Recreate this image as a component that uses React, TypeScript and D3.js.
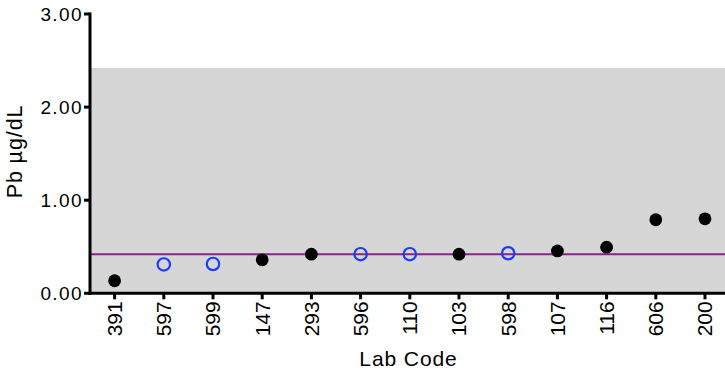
import React from "react";
import * as d3 from "d3";

const labCodes = ["391", "597", "599", "147", "293", "596", "110", "103", "598", "107", "116", "606", "200"];
const pbValues = [0.135, 0.31, 0.315, 0.36, 0.42, 0.42, 0.42, 0.42, 0.43, 0.455, 0.495, 0.79, 0.8];
// true = open blue marker, false = filled black marker
const openMarker = [false, true, true, false, false, true, true, false, true, false, false, false, false];
const yTicks = [0, 1, 2, 3];
const targetValue = 0.42;
const bandUpper = 2.42;

const W = 725;
const H = 373;
const left = 90;
const top = 14;
const bottom = 293.3;
const right = 729.6;

export default function App() {
  const x = d3.scaleBand<string>().domain(labCodes).range([left, right]).padding(0);
  const y = d3.scaleLinear().domain([0, 3]).range([bottom, top]);
  const cx = (c: string) => (x(c) as number) + x.bandwidth() / 2;
  const font = "Arial, 'Liberation Sans', Helvetica, sans-serif";

  return (
    <svg width={W} height={H} style={{ position: "absolute", left: 0, top: 0 }} fontFamily={font}>
      <rect x={left} y={y(bandUpper)} width={W - left} height={y(0) - y(bandUpper)} fill="#d6d6d6" />
      <line x1={left} x2={W} y1={y(targetValue)} y2={y(targetValue)} stroke="#8e1f8e" strokeWidth={2} />

      {labCodes.map((c, i) =>
        openMarker[i] ? (
          <circle key={c} cx={cx(c)} cy={y(pbValues[i])} r={6.2} fill="none" stroke="#1a3cff" strokeWidth={2.2} />
        ) : (
          <circle key={c} cx={cx(c)} cy={y(pbValues[i])} r={6.4} fill="#000" />
        )
      )}

      {/* y axis */}
      <line x1={left} x2={left} y1={top - 1.5} y2={bottom + 1.5} stroke="#000" strokeWidth={3} />
      {yTicks.map((t) => (
        <g key={t}>
          <line x1={left - 6} x2={left} y1={y(t)} y2={y(t)} stroke="#000" strokeWidth={3} />
          <text x={left - 7} y={y(t)} dy="0.36em" textAnchor="end" fontSize={19} letterSpacing={1.4} fill="#000">
            {t.toFixed(2)}
          </text>
        </g>
      ))}

      {/* x axis */}
      <line x1={left - 1.5} x2={W} y1={bottom} y2={bottom} stroke="#000" strokeWidth={3} />
      {labCodes.map((c) => (
        <g key={c}>
          <line x1={cx(c)} x2={cx(c)} y1={bottom} y2={bottom + 6} stroke="#000" strokeWidth={3} />
          <text
            transform={`translate(${cx(c)},${bottom + 8}) rotate(-90)`}
            dy="0.35em"
            textAnchor="end"
            fontSize={21}
            fill="#000"
          >
            {c}
          </text>
        </g>
      ))}

      <text x={408.5} y={365.5} textAnchor="middle" fontSize={21} letterSpacing={0.9} fill="#000">
        Lab Code
      </text>
      <text
        transform={`translate(22,151.5) rotate(-90)`}
        textAnchor="middle"
        fontSize={21.5}
        letterSpacing={0.9}
        fill="#000"
      >
        Pb µg/dL
      </text>
    </svg>
  );
}
